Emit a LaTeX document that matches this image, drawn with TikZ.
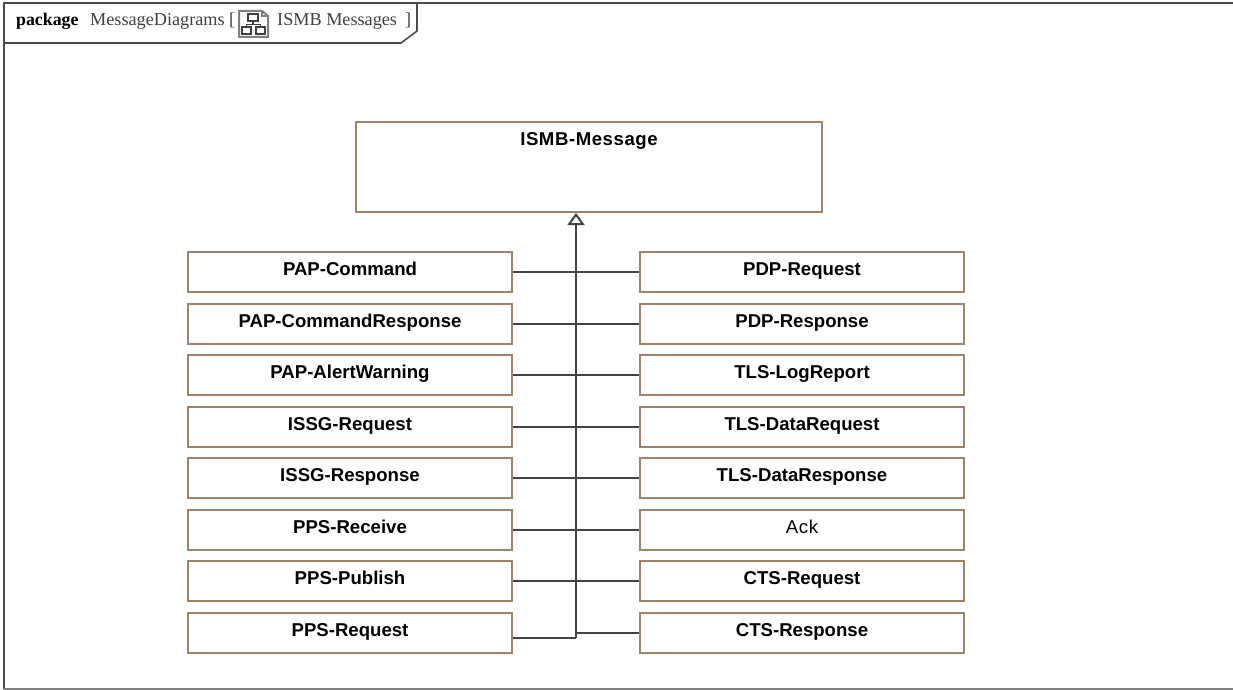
\documentclass[tikz,border=0pt]{standalone}
\usepackage{fontspec}
\setmainfont{Liberation Sans}
\newfontfamily\headfont{Liberation Serif}
\usetikzlibrary{arrows.meta}
\definecolor{boxbrown}{HTML}{A08468}
\definecolor{linegray}{HTML}{444444}
\tikzset{
	msgbox/.style={draw=boxbrown, line width=2pt, minimum width=324pt, inner xsep=0pt, inner ysep=0pt,
		text height=23pt, text depth=17pt, font=\fontsize{18.6}{20}\selectfont\bfseries},
	ackbox/.style={msgbox, font=\fontsize{18.6}{20}\selectfont\addfontfeature{LetterSpace=4}},
	rootbox/.style={msgbox, minimum width=466pt, text depth=67pt, font=\fontsize{18.6}{20}\selectfont\bfseries\addfontfeature{LetterSpace=3}},
	link/.style={draw=linegray, line width=2pt},
	headtext/.style={anchor=base west, inner sep=0pt, text=black!75, font=\fontsize{18.2}{20}\selectfont\headfont},
	icon/.style={draw=black!75, line width=1.2pt}
}

\begin{document}
\begin{tikzpicture}[x=1pt, y=-1pt]
	\useasboundingbox (0, 0) rectangle (1233, 690);
	%%%%% FRAME %%%%%

	\draw[line width=1.6pt, color=black!70] (1233, 3) -- (4, 3) -- (4, 689);
	\draw[line width=1.6pt, color=black!50] (4, 689) -- (1233, 689);
	\draw[line width=1.6pt, color=black!70] (417, 3) -- (417, 31) -- (401, 43) -- (4, 43);

	\node[headtext, text=black, font=\fontsize{17.8}{20}\selectfont\headfont\bfseries] (pkgWord) at (16, 25.5) {package};
	\node[headtext] (pkgName) at (90, 25.5) {MessageDiagrams [};
	\node[headtext] (pkgTitle) at (277, 25.5) {ISMB Messages};
	\node[headtext] (pkgClose) at (405, 25.5) {]};

	%%%%% ICON %%%%%

	\draw[line width=2pt, color=black!50] (239, 11) -- (262, 11) -- (268, 16) -- (268, 37) -- (239, 37) -- cycle;
	\draw[line width=1.2pt, color=black!50] (262, 11) -- (262, 16) -- (268, 16);
	\draw[icon] (248, 14) rectangle (258, 21);
	\draw[icon] (242, 27) rectangle (251, 34);
	\draw[icon] (256, 27) rectangle (265, 34);
	\draw[icon] (253, 21) -- (253, 24.5) (246.5, 27) -- (246.5, 24.5) -- (260.5, 24.5) -- (260.5, 27);

	%%%%% BOXES %%%%%

	\node[rootbox] (ismbMessage) at (589, 167) {ISMB-Message};

	\node[msgbox] (papCommand) at (350, 272) {PAP-Command};
	\node[msgbox] (papResponse) at (350, 324) {PAP-CommandResponse};
	\node[msgbox] (papAlert) at (350, 375) {PAP-AlertWarning};
	\node[msgbox] (issgRequest) at (350, 427) {ISSG-Request};
	\node[msgbox] (issgResponse) at (350, 478) {ISSG-Response};
	\node[msgbox] (ppsReceive) at (350, 530) {PPS-Receive};
	\node[msgbox] (ppsPublish) at (350, 581) {PPS-Publish};
	\node[msgbox] (ppsRequest) at (350, 633) {PPS-Request};

	\node[msgbox] (pdpRequest) at (802, 272) {PDP-Request};
	\node[msgbox] (pdpResponse) at (802, 324) {PDP-Response};
	\node[msgbox] (tlsLog) at (802, 375) {TLS-LogReport};
	\node[msgbox] (tlsRequest) at (802, 427) {TLS-DataRequest};
	\node[msgbox] (tlsResponse) at (802, 478) {TLS-DataResponse};
	\node[ackbox] (ack) at (802, 530) {Ack};
	\node[msgbox] (ctsRequest) at (802, 581) {CTS-Request};
	\node[msgbox] (ctsResponse) at (802, 633) {CTS-Response};

	%%%%% LINKS %%%%%

	\coordinate (trunkEnd) at (576, 638);
	\draw[link, -{Triangle[open, fill=white, length=12pt, width=17pt]}] (trunkEnd) -- (trunkEnd |- ismbMessage.south);

	\draw[link] (papCommand.east) -- (pdpRequest.west);
	\draw[link] (papResponse.east) -- (pdpResponse.west);
	\draw[link] (papAlert.east) -- (tlsLog.west);
	\draw[link] (issgRequest.east) -- (tlsRequest.west);
	\draw[link] (issgResponse.east) -- (tlsResponse.west);
	\draw[link] (ppsReceive.east) -- (ack.west);
	\draw[link] (ppsPublish.east) -- (ctsRequest.west);
	\draw[link] (ppsRequest.east |- trunkEnd) -- (trunkEnd);
	\draw[link] (ctsResponse.west) -- (ctsResponse.west -| trunkEnd);
\end{tikzpicture}
\end{document}
